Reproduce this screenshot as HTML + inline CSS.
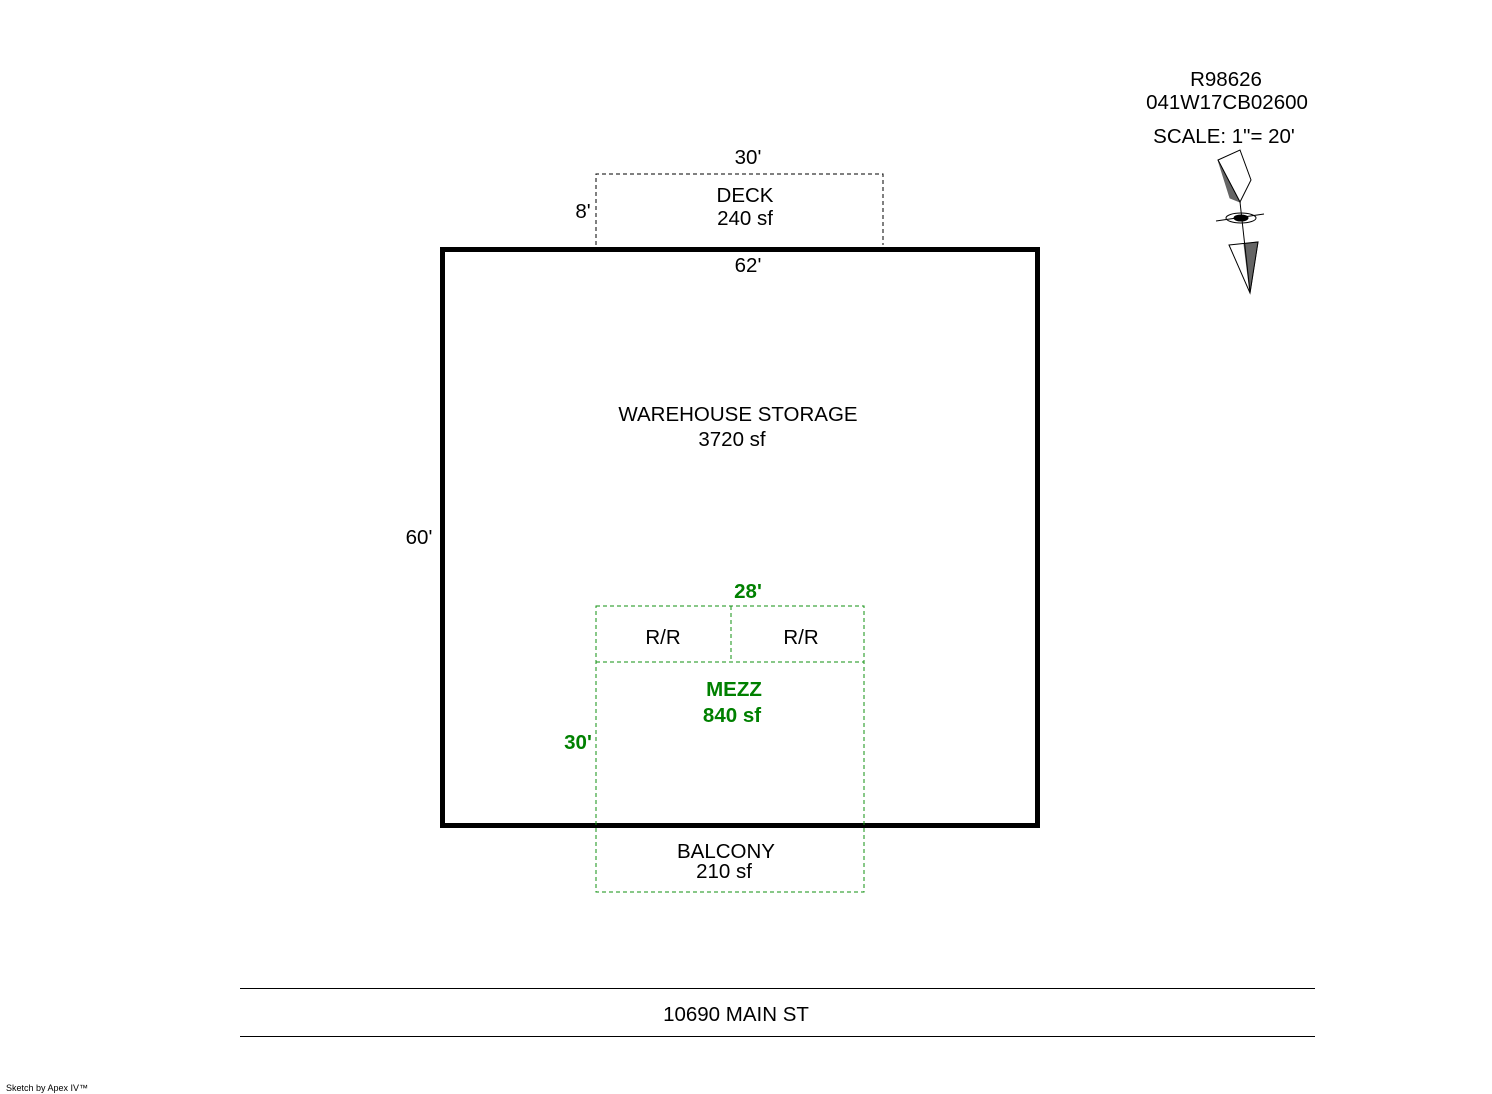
<!DOCTYPE html>
<html><head><meta charset="utf-8"><style>
html,body{margin:0;padding:0;background:#fff;}
svg{display:block;font-family:"Liberation Sans",Arial,sans-serif;}
</style></head><body>
<svg width="1492" height="1094" viewBox="0 0 1492 1094" xmlns="http://www.w3.org/2000/svg">
<rect width="1492" height="1094" fill="#fff"/>
<path d="M596 245 V174 H883 V245" fill="none" stroke="#000" stroke-width="1" stroke-dasharray="4,3"/>
<rect x="442.5" y="249.5" width="595" height="576" fill="none" stroke="#000" stroke-width="5"/>
<g fill="none" stroke="#109010" stroke-width="1" stroke-dasharray="4,3">
<rect x="596" y="606" width="268" height="286"/>
<line x1="596" y1="662" x2="864" y2="662"/>
<line x1="731" y1="606" x2="731" y2="662"/>
</g>
<g font-size="20.5" fill="#000" text-anchor="middle">
<text x="748" y="164">30'</text>
<text x="745" y="202">DECK</text>
<text x="745" y="225">240 sf</text>
<text x="583" y="218">8'</text>
<text x="748" y="272">62'</text>
<text x="738" y="421">WAREHOUSE STORAGE</text>
<text x="732" y="446">3720 sf</text>
<text x="419" y="544">60'</text>
<text x="663" y="644">R/R</text>
<text x="801" y="644">R/R</text>
<text x="726" y="858">BALCONY</text>
<text x="724" y="878">210 sf</text>
<text x="736" y="1021">10690 MAIN ST</text>
<text x="1226" y="86">R98626</text>
<text x="1227" y="109">041W17CB02600</text>
<text x="1224" y="143">SCALE: 1"= 20'</text>
</g>
<g font-size="20.5" font-weight="bold" fill="#008000" text-anchor="middle">
<text x="748" y="598">28'</text>
<text x="734" y="696">MEZZ</text>
<text x="732" y="722">840 sf</text>
<text x="578" y="749">30'</text>
</g>
<line x1="240" y1="988.5" x2="1315" y2="988.5" stroke="#000" stroke-width="1"/>
<line x1="240" y1="1036.5" x2="1315" y2="1036.5" stroke="#000" stroke-width="1"/>
<text x="6" y="1091" font-size="9" fill="#000">Sketch by Apex IV™</text>
<g fill="none" stroke="#000" stroke-width="1">
<path d="M1240 150 L1251 180 L1240 202 L1218 160 Z"/>
<path d="M1218 160 L1240 202 L1230 198 Z" fill="#000" opacity="0.6"/>
<line x1="1240" y1="202" x2="1250" y2="292"/>
<ellipse cx="1241" cy="218" rx="15" ry="5"/>
<ellipse cx="1241" cy="218" rx="7" ry="3" fill="#000"/>
<line x1="1216" y1="221" x2="1264" y2="214"/>
<path d="M1229 245 L1258 242 L1250 293 Z"/>
<path d="M1244 244 L1258 242 L1250 293 Z" fill="#000" opacity="0.6"/>
</g>
</svg>
</body></html>
